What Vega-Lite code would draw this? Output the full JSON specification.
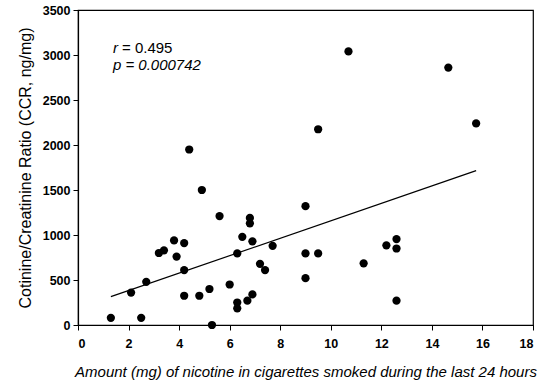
{
  "$schema": "https://vega.github.io/schema/vega-lite/v6.json",
  "width": 455,
  "height": 315,
  "autosize": "none",
  "padding": {"left": 78, "top": 10, "right": 9, "bottom": 60},
  "config": {
    "font": "Liberation Sans",
    "view": {"stroke": "black", "strokeWidth": 1.2},
    "axis": {"grid": false, "domainColor": "black", "tickColor": "black", "labelColor": "black", "titleColor": "black", "labelFont": "Liberation Sans", "titleFont": "Liberation Sans", "labelFontSize": 12.5, "labelFontWeight": "bold", "titleFontSize": 15, "titleFontWeight": "normal", "tickSize": 5, "domainWidth": 1.2, "format": "d"}
  },
  "datasets": {
    "pts": [
      {"x": 1.3, "y": 80}, {"x": 2.1, "y": 360}, {"x": 2.5, "y": 80}, {"x": 2.7, "y": 480},
      {"x": 3.2, "y": 800}, {"x": 3.4, "y": 830}, {"x": 3.8, "y": 940}, {"x": 3.9, "y": 760},
      {"x": 4.2, "y": 910}, {"x": 4.2, "y": 610}, {"x": 4.2, "y": 325}, {"x": 4.4, "y": 1950},
      {"x": 4.8, "y": 325}, {"x": 4.9, "y": 1500}, {"x": 5.2, "y": 400}, {"x": 5.3, "y": 0},
      {"x": 5.6, "y": 1210}, {"x": 6.0, "y": 450}, {"x": 6.3, "y": 795}, {"x": 6.3, "y": 250},
      {"x": 6.3, "y": 185}, {"x": 6.5, "y": 980}, {"x": 6.7, "y": 270}, {"x": 6.8, "y": 1190},
      {"x": 6.8, "y": 1130}, {"x": 6.9, "y": 930}, {"x": 6.9, "y": 340}, {"x": 7.2, "y": 680},
      {"x": 7.4, "y": 610}, {"x": 7.7, "y": 880}, {"x": 9.0, "y": 1320}, {"x": 9.0, "y": 795},
      {"x": 9.5, "y": 795}, {"x": 9.0, "y": 520}, {"x": 9.5, "y": 2175}, {"x": 10.7, "y": 3040},
      {"x": 11.3, "y": 685}, {"x": 12.2, "y": 885}, {"x": 12.6, "y": 955}, {"x": 12.6, "y": 850},
      {"x": 12.6, "y": 270}, {"x": 14.65, "y": 2860}, {"x": 15.75, "y": 2240}
    ],
    "fit": [{"x": 1.3, "y": 315}, {"x": 15.75, "y": 1715}]
  },
  "layer": [
    {
      "data": {"name": "fit"},
      "mark": {"type": "line", "color": "black", "strokeWidth": 1.2},
      "encoding": {
        "x": {"field": "x", "type": "quantitative", "scale": {"domain": [0, 18], "nice": false}, "axis": {"values": [0,2,4,6,8,10,12,14,16,18], "title": "Amount (mg) of nicotine in cigarettes smoked during the last 24 hours", "titleFontStyle": "italic", "titlePadding": 15, "labelPadding": 7}},
        "y": {"field": "y", "type": "quantitative", "scale": {"domain": [0, 3500], "nice": false}, "axis": {"values": [0,500,1000,1500,2000,2500,3000,3500], "title": "Cotinine/Creatinine Ratio (CCR, ng/mg)", "titleFontSize": 16, "titlePadding": 9, "labelPadding": 3}}
      }
    },
    {
      "data": {"name": "pts"},
      "mark": {"type": "circle", "color": "black", "opacity": 1, "size": 68},
      "encoding": {
        "x": {"field": "x", "type": "quantitative"},
        "y": {"field": "y", "type": "quantitative"}
      }
    },
    {
      "data": {"values": [{"x": 1.38, "y": 3080, "t": "r"}]},
      "mark": {"type": "text", "align": "left", "baseline": "middle", "fontSize": 15, "fontStyle": "italic", "color": "black"},
      "encoding": {"x": {"field": "x", "type": "quantitative"}, "y": {"field": "y", "type": "quantitative"}, "text": {"field": "t"}}
    },
    {
      "data": {"values": [{"x": 1.74, "y": 3080, "t": "= 0.495"}]},
      "mark": {"type": "text", "align": "left", "baseline": "middle", "fontSize": 15, "color": "black"},
      "encoding": {"x": {"field": "x", "type": "quantitative"}, "y": {"field": "y", "type": "quantitative"}, "text": {"field": "t"}}
    },
    {
      "data": {"values": [{"x": 1.38, "y": 2890, "t": "p = 0.000742"}]},
      "mark": {"type": "text", "align": "left", "baseline": "middle", "fontSize": 15, "fontStyle": "italic", "color": "black"},
      "encoding": {"x": {"field": "x", "type": "quantitative"}, "y": {"field": "y", "type": "quantitative"}, "text": {"field": "t"}}
    }
  ]
}
